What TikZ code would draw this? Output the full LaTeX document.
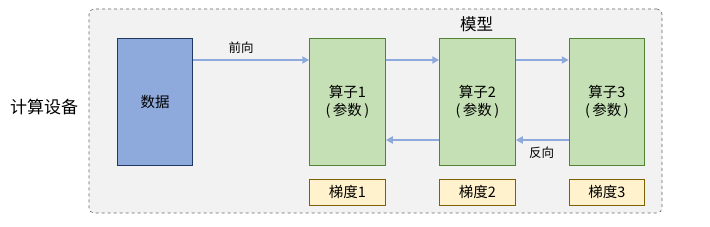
\documentclass[tikz,border=0pt]{standalone}
\usepackage{fontspec}
\setmainfont{Noto Sans CJK SC}
\usetikzlibrary{arrows.meta}
\definecolor{dataF}{HTML}{8EA9DB}
\definecolor{dataB}{HTML}{1F3864}
\definecolor{opF}{HTML}{C5E0B4}
\definecolor{opB}{HTML}{548235}
\definecolor{grF}{HTML}{FFF2CC}
\definecolor{grB}{HTML}{7F6000}
\definecolor{arr}{HTML}{8EA9DB}
\definecolor{cont}{HTML}{F2F2F2}
\begin{document}
\begin{tikzpicture}[x=1pt,y=-1pt,
  blk/.style={draw,line width=1pt,minimum width=75.5pt,inner sep=0pt,align=center,font=\fontsize{14.5}{18.7}\selectfont},
  datab/.style={blk,fill=dataF,draw=dataB,minimum height=127pt},
  opb/.style={blk,fill=opF,draw=opB,minimum height=127pt},
  grb/.style={blk,fill=grF,draw=grB,minimum height=26pt},
  flow/.style={draw=arr,line width=2.5pt,-{Triangle[length=7pt,width=7pt]}},
  lbl/.style={font=\fontsize{12.5}{14}\selectfont,inner sep=0pt}]
\useasboundingbox (0,0) rectangle (710,227);
\node[draw=gray!80!black,dashed,fill=cont,rounded corners=5pt,line width=0.6pt,minimum width=573pt,minimum height=204pt,inner sep=0pt] (cont) at (375.5,111) {};
\node[font=\fontsize{17}{19}\selectfont] (dev) at (44,107) {计算设备};
\node[font=\fontsize{16.5}{18}\selectfont] (model) at (476.7,24) {模型};
\node[datab] (d) at (155,101.8) {数据};
\node[opb] (o1) at (347.5,101.8) {算子1\\(\,参数\,)};
\node[opb] (o2) at (477.5,101.8) {算子2\\(\,参数\,)};
\node[opb] (o3) at (607,101.8) {算子3\\(\,参数\,)};
\node[grb] (g1) at (347.5,192.3) {梯度1};
\node[grb] (g2) at (477.5,192.3) {梯度2};
\node[grb] (g3) at (607,192.3) {梯度3};
\draw[flow] (d.east |- 0,60) -- (o1.west |- 0,60);
\draw[flow] (o1.east |- 0,60) -- (o2.west |- 0,60);
\draw[flow] (o2.east |- 0,60) -- (o3.west |- 0,60);
\draw[flow] (o3.west |- 0,140) -- (o2.east |- 0,140);
\draw[flow] (o2.west |- 0,140) -- (o1.east |- 0,140);
\node[lbl] (fw) at (241,48) {前向};
\node[lbl] (bw) at (541.7,152.7) {反向};
\end{tikzpicture}
\end{document}
